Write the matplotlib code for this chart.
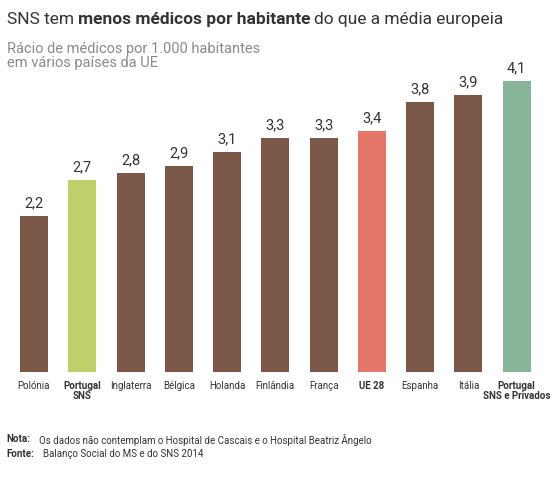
import matplotlib
matplotlib.use("Agg")
import matplotlib.pyplot as plt

categories = ["Polónia", "Portugal\nSNS", "Inglaterra", "Bélgica", "Holanda", "Finlândia",
              "França", "UE 28", "Espanha", "Itália", "Portugal\nSNS e Privados"]
values = [2.2, 2.7, 2.8, 2.9, 3.1, 3.3, 3.3, 3.4, 3.8, 3.9, 4.1]
value_labels = ["2,2", "2,7", "2,8", "2,9", "3,1", "3,3", "3,3", "3,4", "3,8", "3,9", "4,1"]
bold_idx = [1, 7, 10]

brown = "#7B5847"
colors = [brown] * len(values)
colors[1] = "#BFD06A"
colors[7] = "#E5776A"
colors[10] = "#88B59A"

plt.rcParams['font.family'] = ['Roboto', 'DejaVu Sans']
fig = plt.figure(figsize=(5.6, 4.8), dpi=100)
ax = fig.add_axes([9.85/560, 108/480, 531/560, 319.4/480])
x = list(range(len(values)))
ax.bar(x, values, width=0.58, color=colors)
ax.set_xlim(-0.5, 10.5)
ax.set_ylim(0, 4.5)
ax.axis('off')
for i, (v, l) in enumerate(zip(values, value_labels)):
    ax.text(i, v + 0.08, l, ha='center', va='bottom', fontsize=10.5, color='#333333')
    ax.text(i, -0.12, categories[i], ha='center', va='top', fontsize=7,
            color='#333333', fontweight='bold' if i in bold_idx else 'normal',
            linespacing=1.1)

fig.text(0.012, 0.975, "SNS tem ", fontsize=12.5, color='#333333', va='top')
t = fig.text(0.012, 0.975, "", fontsize=12.5, va='top')
fig.canvas.draw()
r = fig.canvas.get_renderer()
t1 = fig.texts[0]
bb = t1.get_window_extent(r)
x2 = bb.x1 / fig.bbox.width
t2 = fig.text(x2, 0.975, "menos médicos por habitante", fontsize=12.5, fontweight='bold',
              color='#333333', va='top')
bb2 = t2.get_window_extent(r)
fig.text(bb2.x1 / fig.bbox.width + 0.006, 0.975, "do que a média europeia", fontsize=12.5,
         color='#333333', va='top')
fig.text(0.012, 0.912, "Rácio de médicos por 1.000 habitantes\nem vários países da UE",
         fontsize=10.5, color='#8a8a8a', va='top', linespacing=1.0)

fig.text(0.012, 0.095, "Nota:", fontsize=7, fontweight='bold', color='#333333', va='top')
fig.text(0.07, 0.095, "Os dados não contemplam o Hospital de Cascais e o Hospital Beatriz Ângelo",
         fontsize=7, color='#333333', va='top')
fig.text(0.012, 0.065, "Fonte:", fontsize=7, fontweight='bold', color='#333333', va='top')
fig.text(0.077, 0.065, "Balanço Social do MS e do SNS 2014", fontsize=7, color='#333333', va='top')

fig.savefig("out.png", dpi=100)
